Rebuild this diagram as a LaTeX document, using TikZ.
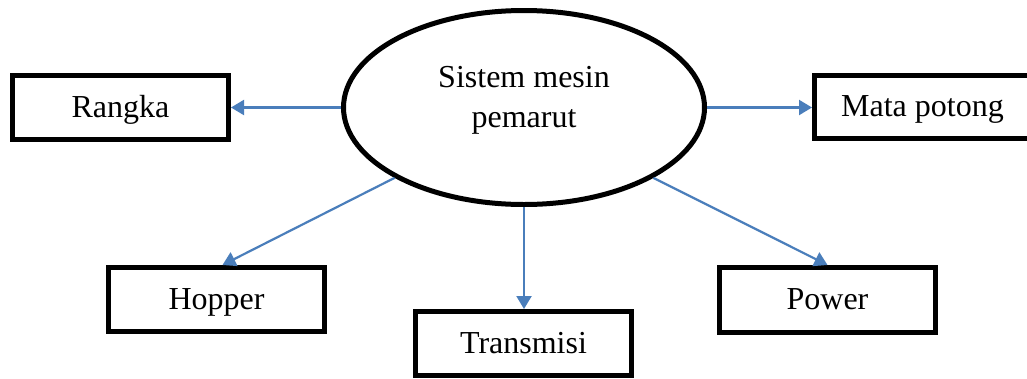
\documentclass[tikz,border=0pt]{standalone}
\usepackage{fontspec}
\setmainfont{Liberation Serif}
\usetikzlibrary{arrows.meta,shapes.geometric}
\definecolor{linkblue}{RGB}{74,126,187}
\tikzset{
  partbox/.style={draw=black, line width=5pt, rectangle, inner sep=0pt,
    minimum width=216pt, minimum height=64pt,
    text height=24pt, text depth=5pt, font=\fontsize{32}{38}\selectfont},
  hub/.style={draw=black, line width=5pt, ellipse, inner sep=0pt,
    minimum width=361pt, minimum height=194pt},
  hubtext/.style={anchor=base, inner sep=0pt, font=\fontsize{32}{38}\selectfont},
  link/.style={draw=linkblue, line width=2.2pt,
    -{Triangle[length=13pt,width=15pt]}}
}
\begin{document}
\begin{tikzpicture}[x=1pt,y=-1pt]
  \clip (0,0) rectangle (1027,378);
  \fill[white] (0,0) rectangle (1027,378);

  % central system
  \node[hub] (sys) at (524,107.5) {};
  \node[hubtext] (sysA) at (524,87) {Sistem mesin};
  \node[hubtext] (sysB) at (524,127) {pemarut};

  % components
  \node[partbox] (rangka) at (120.5,107.5) {Rangka};
  \node[partbox, minimum height=63pt] (mata) at (922.5,107) {Mata potong};
  \node[partbox] (hopper) at (216.5,299.5) {Hopper};
  \node[partbox] (trans) at (523.5,343.5) {Transmisi};
  \node[partbox, minimum height=65pt] (power) at (827.5,300) {Power};

  % connectors
  \draw[link] (sys.west) -- (sys.west -| rangka.east);
  \draw[link] (sys.east) -- (sys.east -| mata.west);
  \draw[link] (sys.south west) -- ([xshift=6pt]hopper.north);
  \draw[link] (sys.south) -- (trans.north -| sys.south);
  \draw[link] (sys.south east) -- (power.north);
\end{tikzpicture}
\end{document}
